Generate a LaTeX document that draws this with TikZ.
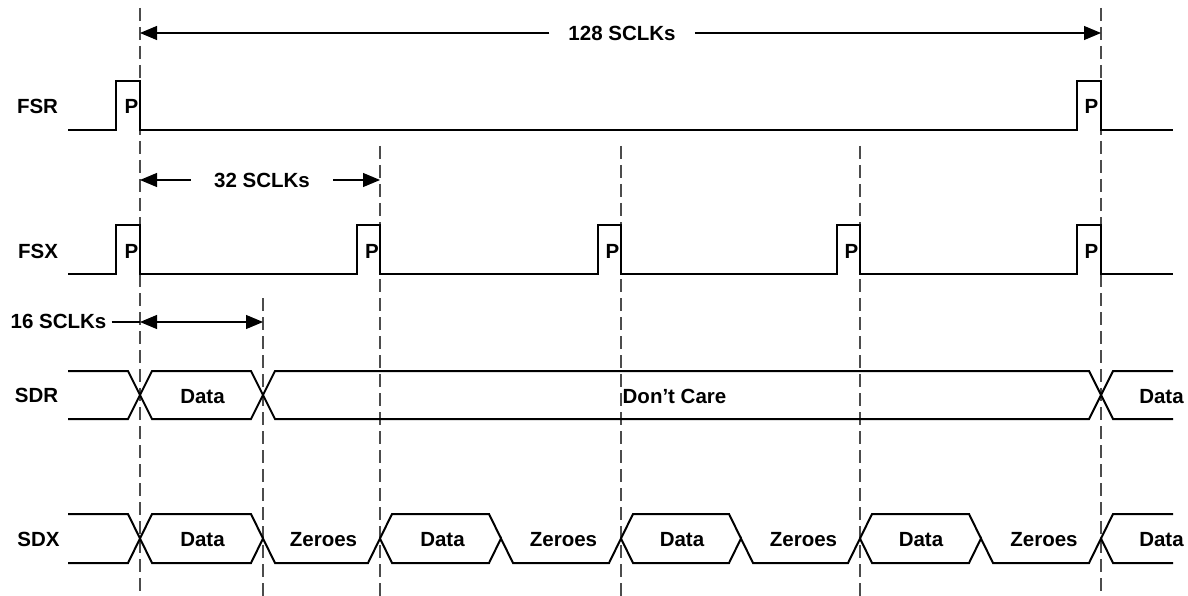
\documentclass[tikz,border=0pt]{standalone}
\usepackage{fontspec}
\setmainfont{Liberation Sans}
\usetikzlibrary{arrows.meta}
\begin{document}
\begin{tikzpicture}[x=1pt,y=-1pt,
  sig/.style={line width=2pt, line join=miter, line cap=butt},
  guide/.style={line width=1.2pt, draw=black!70, dash pattern=on 13pt off 6pt},
  dimline/.style={line width=1.1pt},
  dimarrow/.style={line width=1.1pt, -{Triangle[length=17pt,width=14pt]}},
  dimboth/.style={line width=1.1pt, {Triangle[length=17pt,width=14pt]}-{Triangle[length=17pt,width=14pt]}},
  lbl/.style={font=\fontsize{20.5}{24}\selectfont\bfseries, inner sep=0pt, text height=14.7pt, text depth=0pt},
  dimlbl/.style={lbl, inner xsep=19pt}]
\useasboundingbox (0,0) rectangle (1188,596);

% guide lines
\coordinate (gAt) at (140,8);   \coordinate (gAb) at (140,596);
\coordinate (gBt) at (263,298); \coordinate (gBb) at (263,596);
\coordinate (gCt) at (380,146); \coordinate (gCb) at (380,596);
\coordinate (gDt) at (621,146); \coordinate (gDb) at (621,596);
\coordinate (gEt) at (860,146); \coordinate (gEb) at (860,596);
\coordinate (gFt) at (1101,8);  \coordinate (gFb) at (1101,596);
\foreach \g in {A,B,C,D,E,F} {\draw[guide] (g\g t) -- (g\g b);}

% signal names
\node[lbl] (nFSR) at (37.5,106.5) {FSR};
\node[lbl] (nFSX) at (38,251.5) {FSX};
\node[lbl] (nSDR) at (36.5,395) {SDR};
\node[lbl] (nSDX) at (38.5,539) {SDX};

% FSR
\draw[sig] (68,130) -- (116,130) -- (116,81) -- (140,81) -- (140,130) -- (1077,130)
  -- (1077,81) -- (1101,81) -- (1101,130) -- (1173,130);
\node[lbl] (pR1) at (131.5,106.5) {P};
\node[lbl] (pR2) at (1091.5,106.5) {P};

% FSX
\draw[sig] (68,274) -- (116,274) -- (116,225) -- (140,225) -- (140,274)
  -- (357,274) -- (357,225) -- (380,225) -- (380,274)
  -- (598,274) -- (598,225) -- (621,225) -- (621,274)
  -- (837,274) -- (837,225) -- (860,225) -- (860,274)
  -- (1077,274) -- (1077,225) -- (1101,225) -- (1101,274) -- (1173,274);
\node[lbl] (pX1) at (131.5,251) {P};
\node[lbl] (pX2) at (372,251) {P};
\node[lbl] (pX3) at (612.5,251) {P};
\node[lbl] (pX4) at (851.5,251) {P};
\node[lbl] (pX5) at (1091.5,251) {P};

% SDR
\draw[sig] (68,371) -- (128,371) -- (152,419) -- (251,419) -- (275,371) -- (1089,371) -- (1113,419) -- (1173,419);
\draw[sig] (68,419) -- (128,419) -- (152,371) -- (251,371) -- (275,419) -- (1089,419) -- (1113,371) -- (1173,371);
\node[lbl] (dR1) at (202.5,396) {Data};
\node[lbl] (dRc) at (674.5,396) {Don’t Care};
\node[lbl] (dR2) at (1161.5,396) {Data};

% SDX
\draw[sig] (68,514) -- (128,514) -- (152,563) -- (251,563) -- (263,538.5) -- (275,563)
  -- (368,563) -- (380,538.5) -- (392,563) -- (489,563) -- (501,538.5) -- (513,563)
  -- (609,563) -- (621,538.5) -- (633,563) -- (729,563) -- (741,538.5) -- (753,563)
  -- (848,563) -- (860,538.5) -- (872,563) -- (969,563) -- (981,538.5) -- (993,563)
  -- (1089,563) -- (1101,538.5) -- (1113,563) -- (1173,563);
\draw[sig] (68,563) -- (128,563) -- (152,514) -- (251,514) -- (263,538.5);
\draw[sig] (380,538.5) -- (392,514) -- (489,514) -- (501,538.5);
\draw[sig] (621,538.5) -- (633,514) -- (729,514) -- (741,538.5);
\draw[sig] (860,538.5) -- (872,514) -- (969,514) -- (981,538.5);
\draw[sig] (1101,538.5) -- (1113,514) -- (1173,514);
\node[lbl] (dX1) at (202.5,539) {Data};
\node[lbl] (zX1) at (323.5,539) {Zeroes};
\node[lbl] (dX2) at (442.5,539) {Data};
\node[lbl] (zX2) at (563.5,539) {Zeroes};
\node[lbl] (dX3) at (682,539) {Data};
\node[lbl] (zX3) at (803.5,539) {Zeroes};
\node[lbl] (dX4) at (921,539) {Data};
\node[lbl] (zX4) at (1044,539) {Zeroes};
\node[lbl] (dX5) at (1161.5,539) {Data};

% 128 SCLKs
\coordinate (a128l) at (140,33);
\coordinate (a128r) at (1101,33);
\node[dimlbl] (t128) at (622,33) {128 SCLKs};
\draw[dimarrow] (t128) -- (a128l);
\draw[dimarrow] (t128) -- (a128r);

% 32 SCLKs
\coordinate (a32l) at (140,180);
\coordinate (a32r) at (380,180);
\node[dimlbl, inner xsep=23pt] (t32) at (262,180) {32 SCLKs};
\draw[dimarrow] (t32) -- (a32l);
\draw[dimarrow] (t32) -- (a32r);

% 16 SCLKs
\coordinate (a16l) at (140,322);
\coordinate (a16r) at (263,322);
\node[lbl, inner xsep=5pt] (t16) at (58.5,321.5) {16 SCLKs};
\draw[dimline] (t16.east |- a16l) -- (a16l);
\draw[dimboth] (a16l) -- (a16r);
\end{tikzpicture}
\end{document}
